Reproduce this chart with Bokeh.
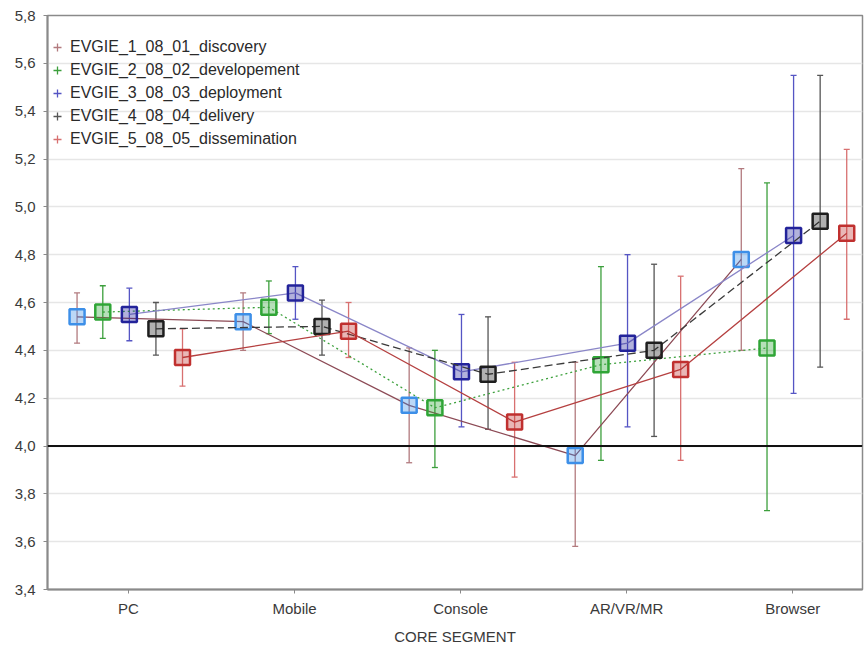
from bokeh.plotting import figure
from bokeh.models import (ColumnDataSource, Whisker, TeeHead, FixedTicker, Span,
                          Legend, LegendItem, Range1d)
from bokeh.embed import file_html
from bokeh.resources import INLINE

categories = ["PC", "Mobile", "Console", "AR/VR/MR", "Browser"]
series_names = ["EVGIE_1_08_01_discovery", "EVGIE_2_08_02_developement",
                "EVGIE_3_08_03_deployment", "EVGIE_4_08_04_delivery",
                "EVGIE_5_08_05_dissemination"]

discovery_mean = [4.54, 4.52, 4.17, 3.96, 4.78]
discovery_lo = [4.43, 4.40, 3.93, 3.58, 4.40]
discovery_hi = [4.64, 4.64, 4.41, 4.35, 5.16]

development_mean = [4.56, 4.58, 4.16, 4.34, 4.41]
development_lo = [4.45, 4.47, 3.91, 3.94, 3.73]
development_hi = [4.67, 4.69, 4.40, 4.75, 5.10]

deployment_mean = [4.55, 4.64, 4.31, 4.43, 4.88]
deployment_lo = [4.44, 4.53, 4.08, 4.08, 4.22]
deployment_hi = [4.66, 4.75, 4.55, 4.80, 5.55]

delivery_mean = [4.49, 4.50, 4.30, 4.40, 4.94]
delivery_lo = [4.38, 4.38, 4.07, 4.04, 4.33]
delivery_hi = [4.60, 4.61, 4.54, 4.76, 5.55]

dissemination_mean = [4.37, 4.48, 4.10, 4.32, 4.89]
dissemination_lo = [4.25, 4.37, 3.87, 3.94, 4.53]
dissemination_hi = [4.49, 4.60, 4.35, 4.71, 5.24]

reference_level = 4.0
y_ticks = [3.4, 3.6, 3.8, 4.0, 4.2, 4.4, 4.6, 4.8, 5.0, 5.2, 5.4, 5.6, 5.8]

means = [discovery_mean, development_mean, deployment_mean, delivery_mean, dissemination_mean]
los = [discovery_lo, development_lo, deployment_lo, delivery_lo, dissemination_lo]
his = [discovery_hi, development_hi, deployment_hi, delivery_hi, dissemination_hi]

# styles
dodge = [-0.31, -0.155, 0.005, 0.165, 0.325]
marker_colors = ["#3d8fe8", "#2fa536", "#23239a", "#1e1e1e", "#c0302f"]
bar_colors = ["#b27a7e", "#3c9f3c", "#5555c4", "#555555", "#d87070"]
line_colors = ["#8c4a55", "#3ca03c", "#8a86c8", "#3a3a3a", "#b54040"]
line_dashes = ["solid", "2 3", "solid", "8 4", "solid"]

p = figure(width=864, height=650, output_backend="svg", toolbar_location=None,
           x_range=Range1d(0.512, 5.42), y_range=Range1d(3.4, 5.8),
           min_border_left=47, min_border_right=2, min_border_top=15, min_border_bottom=61)

p.background_fill_color = "white"
p.border_fill_color = "white"
p.outline_line_color = "#8a8a8a"
p.outline_line_width = 1.5

p.xgrid.visible = False
p.ygrid.grid_line_color = "#e6e6e6"
p.ygrid.grid_line_width = 1.5
p.ygrid.ticker = FixedTicker(ticks=y_ticks)

p.yaxis.ticker = FixedTicker(ticks=y_ticks)
p.yaxis.major_label_overrides = {t: f"{t:.1f}".replace(".", ",") for t in y_ticks}
p.xaxis.ticker = FixedTicker(ticks=list(range(1, len(categories) + 1)))
p.xaxis.major_label_overrides = {i + 1: c for i, c in enumerate(categories)}
p.xaxis.axis_label = "CORE SEGMENT"

for ax in (p.xaxis[0], p.yaxis[0]):
    ax.axis_line_color = "#8a8a8a"
    ax.axis_line_width = 2
    ax.major_tick_line_color = "#8a8a8a"
    ax.major_tick_in = 0
    ax.major_tick_out = 4
    ax.minor_tick_line_color = None
    ax.major_label_text_font = "Liberation Sans"
    ax.major_label_text_font_size = "15px"
    ax.major_label_text_color = "#3a3a3a"
p.xaxis.axis_label_text_font = "Liberation Sans"
p.xaxis.axis_label_text_font_size = "15px"
p.xaxis.axis_label_text_font_style = "normal"
p.xaxis.axis_label_text_color = "#3a3a3a"
p.xaxis.axis_label_standoff = 8
p.xaxis.major_label_standoff = 6
p.yaxis.major_label_standoff = 8

p.add_layout(Span(location=reference_level, dimension="width", line_color="#111111", line_width=2))

nan = float("nan")
legend_items = []
for k in range(5):
    xs = [i + 1 + dodge[k] for i in range(len(categories))]
    src = ColumnDataSource(dict(x=xs, y=means[k], lo=los[k], hi=his[k]))
    p.line("x", "y", source=src, line_color=line_colors[k], line_width=1.3,
           line_dash=line_dashes[k])
    w = Whisker(source=src, base="x", lower="lo", upper="hi", dimension="height",
                line_color=bar_colors[k], line_width=1.3,
                upper_head=TeeHead(size=6, line_color=bar_colors[k], line_width=1.3),
                lower_head=TeeHead(size=6, line_color=bar_colors[k], line_width=1.3))
    p.add_layout(w)
    p.scatter("x", "y", source=src, marker="square", size=15,
              line_color=marker_colors[k], line_width=2.5,
              fill_color=marker_colors[k], fill_alpha=0.35)
    icon = p.scatter(x=[nan], y=[nan], marker="cross", size=9, line_color=bar_colors[k],
                     line_width=1.3, fill_color=None)
    legend_items.append(LegendItem(label=series_names[k], renderers=[icon]))

legend = Legend(items=legend_items, location=(0, 440), border_line_color=None,
                background_fill_alpha=0.0, padding=4, spacing=3,
                label_height=20, glyph_height=20, glyph_width=20, label_standoff=3,
                label_text_font="Liberation Sans", label_text_font_size="16px",
                label_text_color="#2a2a2a")
p.add_layout(legend)

open("out.html", "w").write(file_html(p, INLINE))
